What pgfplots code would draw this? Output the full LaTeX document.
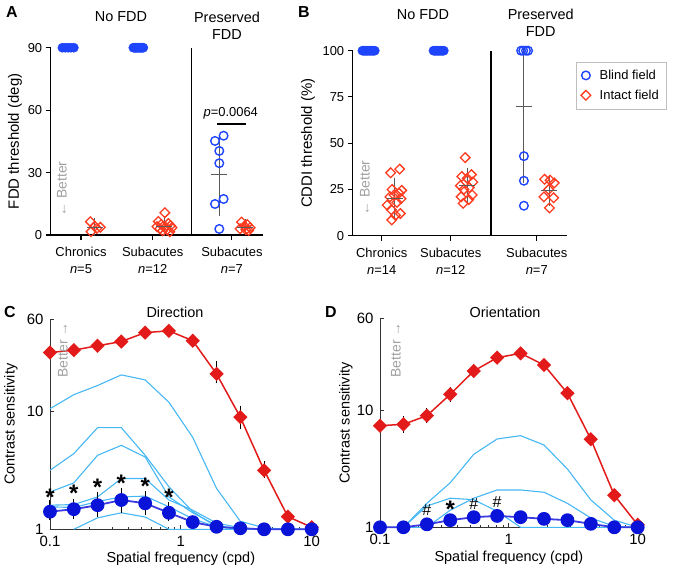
\documentclass[border=0pt]{standalone}
\usepackage{fontspec}
\setmainfont{Liberation Sans}
\usepackage{pgfplots}
\pgfplotsset{compat=1.18}
\usepackage{pgfplotstable}

\definecolor{blind}{HTML}{1F45FC}
\definecolor{intact}{HTML}{FF3B1F}
\definecolor{meanbar}{HTML}{5A5A5A}
\definecolor{cred}{HTML}{E31A1A}
\definecolor{cblue}{HTML}{0A14D9}
\definecolor{cline}{HTML}{3A3AE0}
\definecolor{sky}{HTML}{45B7F5}
\definecolor{better}{HTML}{A0A0A0}

\newcommand\fA{\fontsize{13}{17}\selectfont}
\newcommand\fB{\fontsize{14.5}{17.5}\selectfont}
\newcommand\fL{\fontsize{15}{17}\selectfont}
\newcommand\sigstar{\fontsize{24}{24}\selectfont\bfseries *}

% panel A: FDD thresholds (points at the 90 deg ceiling kept apart)
\pgfplotstableread{
x y
0.74 90
0.78 90
0.82 90
0.86 90
0.90 90
1.73 90
1.743 90
1.755 90
1.768 90
1.78 90
1.793 90
1.805 90
1.818 90
1.83 90
1.843 90
1.855 90
1.87 90
}\Aceil
\pgfplotstableread{
x y
2.87 45.2
2.99 47.7
2.93 40.4
2.93 34.5
2.99 17.3
2.87 14.9
2.93 2.9
}\Ablind
\pgfplotstableread{
x y
1.13 6.4
1.14 1.6
1.22 3.2
1.27 3.7
1.19 4.2
2.17 10.7
2.08 6.5
2.22 5.5
2.12 5.0
2.25 4.5
2.06 4.0
2.18 3.8
2.27 3.5
2.10 3.0
2.20 2.5
2.14 2.0
2.24 1.5
3.24 6.2
3.32 5.0
3.28 4.2
3.36 3.5
3.22 3.0
3.30 2.5
3.34 2.2
}\Aintact
\pgfplotstableread{
x y ep em
1.19 3.8 1.8 1.8
2.16 4.3 2.5 2.5
2.929 29.0 17.3 17.3
3.29 3.8 1.4 1.4
}\Amean

% panel B: CDDI thresholds
\pgfplotstableread{
x y
0.72 100
0.734 100
0.748 100
0.762 100
0.775 100
0.789 100
0.803 100
0.817 100
0.831 100
0.845 100
0.858 100
0.872 100
0.886 100
0.90 100
1.75 100
1.764 100
1.777 100
1.791 100
1.805 100
1.818 100
1.832 100
1.846 100
1.86 100
1.873 100
1.887 100
1.90 100
}\Bceil
\pgfplotstableread{
x y
3.02 100
3.05 100
3.09 100
3.12 100
3.06 43
3.06 29.7
3.06 16.2
}\Bblind
\pgfplotstableread{
x y
1.145 8.5
1.20 11
1.27 12
1.14 14
1.08 16.5
1.22 18
1.28 20
1.12 21
1.18 22
1.25 23
1.29 24.5
1.15 25
1.13 34
1.26 36
2.21 42.2
2.30 33
2.16 32
2.24 31
2.32 29
2.14 27
2.27 26
2.19 25
2.31 22
2.15 21
2.26 19.5
2.18 17.5
3.36 30.5
3.44 30
3.50 28.5
3.42 25
3.35 21
3.49 20.5
3.43 15
}\Bintact
\pgfplotstableread{
x y ep em
1.19 20.4 7.9 7.9
2.24 27.0 6.8 6.8
3.06 69.8 30.2 38.4
3.43 24.4 5.8 5.8
}\Bmean

% panel C: direction contrast sensitivity
\pgfplotstableread{
x r rp rm b bp bm l1 l2 l3 l4 l5 l6
0.100 31.4 1.2 1.2 1.41 0.25 0.13 10.5 3.16 2.07 1.60 1.55 nan
0.152 32.9 1.2 1.2 1.48 0.21 0.18 13.8 4.37 2.47 1.62 1.53 1.00
0.231 35.8 1.4 1.4 1.60 0.35 0.24 16.5 7.25 4.23 1.88 1.72 1.25
0.351 38.9 1.5 1.5 1.77 0.34 0.32 20.3 7.25 5.14 2.69 1.88 1.38
0.534 46.3 1.5 1.5 1.66 0.32 0.27 18.4 4.23 4.09 2.69 1.91 1.27
0.811 47.9 1.5 1.5 1.38 0.24 0.14 11.9 2.29 1.88 1.77 1.55 1.00
1.233 39.5 1.5 1.5 1.15 0.08 0.06 6.00 1.41 1.38 1.45 1.23 1.00
1.874 20.7 4.2 2.5 1.05 0.03 0.02 2.22 1.05 1.08 1.13 1.05 1.00
2.848 8.90 1.6 1.4 1.02 0.01 0.01 1.17 1.00 1.00 1.03 1.00 1.00
4.329 3.16 0.40 0.26 1.00 0.01 0.01 1.03 1.00 1.00 1.00 1.00 1.00
6.579 1.28 0.05 0.05 1.00 0.01 0.01 1.00 1.00 1.00 1.00 1.00 1.00
10.00 1.04 0.02 0.02 1.00 0.01 0.01 1.00 1.00 1.00 1.00 1.00 1.00
}\Cdata

% panel D: orientation contrast sensitivity
\pgfplotstableread{
x r rp rm b bp bm l1 l2 l3
0.100 7.35 0.5 0.5 1.00 0.01 0.01 1.00 1.00 1.00
0.152 7.55 0.9 0.8 1.00 0.01 0.01 1.00 1.00 1.00
0.231 8.94 0.8 0.7 1.06 0.04 0.04 1.60 1.00 1.52
0.351 13.6 1.2 1.1 1.15 0.06 0.06 2.40 1.40 1.77
0.534 21.5 1.9 1.7 1.22 0.07 0.07 4.19 1.77 1.72
0.811 27.9 2.0 1.9 1.25 0.07 0.07 5.66 2.08 1.37
1.233 30.4 1.5 1.5 1.22 0.06 0.06 6.04 2.08 1.00
1.874 24.2 1.2 1.2 1.18 0.05 0.05 5.03 1.99 1.00
2.848 13.9 1.0 1.0 1.15 0.04 0.04 3.14 1.60 1.00
4.329 5.63 0.3 0.3 1.07 0.03 0.03 1.71 1.20 1.00
6.579 1.88 0.1 0.1 1.00 0.01 0.01 1.15 1.02 1.00
10.00 1.05 0.02 0.02 1.00 0.01 0.01 1.00 1.00 1.00
}\Ddata

\pgfplotsset{
  threshaxis/.style={scale only axis, axis lines=left, axis line style={-, line width=1.1pt},
    tick align=outside, major tick length=5bp, tick style={black, line width=1.1pt},
    clip=false, font=\fA, tick label style={font=\fA},
    /pgf/number format/assume math mode=true,
    xticklabel style={align=center, yshift=-4bp}, xtick={1,2,3}},
  blindpt/.style={only marks, mark=o, mark size=4.3bp, blind, line width=1.4pt},
  ceilpt/.style={only marks, mark=*, mark size=4.6bp, blind, mark options={fill=blind}},
  intactpt/.style={only marks, mark=square, mark size=3.4bp, intact, line width=1.3pt, mark options={rotate=45}},
  sdbar/.style={only marks, meanbar, line width=0.9pt, mark=-, mark size=8bp,
    error bars/y dir=both, error bars/y explicit,
    error bars/error bar style={meanbar, line width=0.9pt},
    error bars/error mark options={meanbar, mark size=5bp, line width=0.9pt}},
  csfaxis/.style={scale only axis, xmin=0.1, xmax=10, ymin=1, ymax=60,
    axis lines=left, axis line style={-, line width=0.9pt, black!80},
    tick align=inside, major tick length=4bp, minor tick length=2.5bp,
    tick style={black!80, line width=0.8pt},
    xtick={0.1,1,10}, xticklabels={0.1,1,10},
    minor xtick={0.2,0.3,0.4,0.5,0.6,0.7,0.8,0.9,2,3,4,5,6,7,8,9},
    ytick={1,10,60}, yticklabels={1,10,60}, minor ytick={},
    clip=false, font=\fB, tick label style={font=\fL},
    xticklabel style={yshift=-3.5bp}, yticklabel style={xshift=-3bp},
    xlabel={Spatial frequency (cpd)}, ylabel={Contrast sensitivity},
    xlabel style={font=\fL}},
  skyline/.style={sky, line width=1.1pt, no marks},
  redline/.style={cred, line width=1.5pt, mark=square*, mark size=4.3bp,
    mark options={rotate=45, cred},
    error bars/y dir=both, error bars/y explicit,
    error bars/error bar style={black, line width=1pt},
    error bars/error mark options={black, mark size=3bp, line width=1pt}},
  blueline/.style={cline, line width=1.8pt, mark=*, mark size=6bp,
    mark options={cblue, fill=cblue},
    error bars/y dir=both, error bars/y explicit,
    error bars/error bar style={black, line width=1pt},
    error bars/error mark options={black, mark size=3bp, line width=1pt}},
}

\begin{document}
\begin{tikzpicture}

% ---------- A ----------
\begin{axis}[threshaxis, at={(50.7bp,337bp)}, anchor=south west, width=212.3bp, height=187.3bp,
  xmin=0.577, xmax=3.54, ymin=0, ymax=90, ytick={0,30,60,90},
  xtick={1,2,3.106},
  xticklabels={{Chronics\\\textit{n}=5},{Subacutes\\\textit{n}=12},{Subacutes\\\textit{n}=7}},
  ylabel={FDD threshold (deg)},
  every axis y label/.style={at={(axis description cs:-0.168,0.5)}, rotate=90, anchor=center, font=\fL}]
\addplot[ceilpt] table[x=x,y=y] {\Aceil};
\addplot[blindpt] table[x=x,y=y] {\Ablind};
\addplot[intactpt] table[x=x,y=y] {\Aintact};
\addplot[sdbar] table[x=x,y=y,y error plus=ep,y error minus=em] {\Amean};
\draw[line width=1.1pt] (axis cs:2.544,0) -- (axis cs:2.544,90);
\draw[line width=1.6pt] (axis cs:2.90,53.3) -- (axis cs:3.30,53.3);
\node[font=\fA] at (axis cs:3.09,58.6) {\textit{p}=0.0064};
\end{axis}

% ---------- B ----------
\begin{axis}[threshaxis, at={(352.7bp,336.3bp)}, anchor=south west, width=214bp, height=185bp,
  xmin=0.58, xmax=3.68, ymin=0, ymax=100, ytick={0,25,50,75,100},
  xtick={1,2,3.246},
  xticklabels={{Chronics\\\textit{n}=14},{Subacutes\\\textit{n}=12},{Subacutes\\\textit{n}=7}},
  ylabel={CDDI threshold (\%)},
  every axis y label/.style={at={(axis description cs:-0.209,0.5)}, rotate=90, anchor=center, font=\fL},
  legend style={at={(axis description cs:1.043,0.94)}, anchor=north west,
    draw=black!25, fill=white, font=\fA, inner xsep=5bp, inner ysep=6bp, row sep=5bp},
  legend cell align=left]
\addplot[blindpt] table[x=x,y=y] {\Bblind};
\addlegendentry{\hspace{7bp}Blind field\hspace{18bp}}
\addplot[intactpt] table[x=x,y=y] {\Bintact};
\addlegendentry{\hspace{7bp}Intact field\hspace{18bp}}
\addplot[ceilpt, forget plot] table[x=x,y=y] {\Bceil};
\addplot[sdbar, forget plot] table[x=x,y=y,y error plus=ep,y error minus=em] {\Bmean};
\draw[line width=1.1pt] (axis cs:2.584,0) -- (axis cs:2.584,100);
\end{axis}

% ---------- C ----------
\begin{loglogaxis}[csfaxis, at={(50bp,42.7bp)}, anchor=south west, width=261.7bp, height=210bp,
  every axis y label/.style={at={(axis description cs:-0.149,0.5)}, rotate=90, anchor=center},
  every axis x label/.style={at={(axis description cs:0.5,-0.138)}, anchor=center}]
\addplot[skyline] table[x=x,y=l1] {\Cdata};
\addplot[skyline] table[x=x,y=l2] {\Cdata};
\addplot[skyline] table[x=x,y=l3] {\Cdata};
\addplot[skyline] table[x=x,y=l4] {\Cdata};
\addplot[skyline] table[x=x,y=l5] {\Cdata};
\addplot[skyline] table[x=x,y=l6] {\Cdata};
\addplot[redline] table[x=x,y=r,y error plus=rp,y error minus=rm] {\Cdata};
\addplot[blueline] table[x=x,y=b,y error plus=bp,y error minus=bm] {\Cdata};
\node[inner sep=0pt] at (axis cs:0.100,1.85) {\sigstar};
\node[inner sep=0pt] at (axis cs:0.152,2.03) {\sigstar};
\node[inner sep=0pt] at (axis cs:0.231,2.28) {\sigstar};
\node[inner sep=0pt] at (axis cs:0.351,2.47) {\sigstar};
\node[inner sep=0pt] at (axis cs:0.534,2.33) {\sigstar};
\node[inner sep=0pt] at (axis cs:0.811,1.85) {\sigstar};
\end{loglogaxis}

% ---------- D ----------
\begin{loglogaxis}[csfaxis, at={(380bp,44.7bp)}, anchor=south west, width=257.7bp, height=208.6bp,
  every axis y label/.style={at={(axis description cs:-0.132,0.5)}, rotate=90, anchor=center},
  every axis x label/.style={at={(axis description cs:0.5,-0.148)}, anchor=center}]
\addplot[skyline] table[x=x,y=l1] {\Ddata};
\addplot[skyline] table[x=x,y=l2] {\Ddata};
\addplot[skyline] table[x=x,y=l3] {\Ddata};
\addplot[redline] table[x=x,y=r,y error plus=rp,y error minus=rm] {\Ddata};
\addplot[blueline] table[x=x,y=b,y error plus=bp,y error minus=bm] {\Ddata};
\node[font=\fontsize{16}{16}\selectfont, inner sep=0pt] at (axis cs:0.231,1.39) {\#};
\node[inner sep=0pt] at (axis cs:0.351,1.42) {\sigstar};
\node[font=\fontsize{16}{16}\selectfont, inner sep=0pt] at (axis cs:0.534,1.57) {\#};
\node[font=\fontsize{16}{16}\selectfont, inner sep=0pt] at (axis cs:0.811,1.65) {\#};
\end{loglogaxis}

% ---------- titles and annotations ----------
\node[font=\fB] at (121bp,555.3bp) {No FDD};
\node[font=\fB, align=center] at (227bp,546.5bp) {Preserved\\FDD};
\node[font=\fB] at (423bp,557bp) {No FDD};
\node[font=\fB, align=center] at (540.7bp,549bp) {Preserved\\FDD};
\node[font=\fB] at (175bp,260bp) {Direction};
\node[font=\fB] at (505bp,260bp) {Orientation};
\node[font=\fontsize{16}{16}\selectfont\bfseries] at (12bp,560bp) {A};
\node[font=\fontsize{16}{16}\selectfont\bfseries] at (304bp,560bp) {B};
\node[font=\fontsize{16}{16}\selectfont\bfseries] at (10bp,260bp) {C};
\node[font=\fontsize{16}{16}\selectfont\bfseries] at (331bp,260bp) {D};
\node[font=\fontsize{14}{14}\selectfont, text=better, rotate=90] at (62bp,383bp) {← Better};
\node[font=\fontsize{14}{14}\selectfont, text=better, rotate=90] at (365bp,384bp) {← Better};
\node[font=\fontsize{14}{14}\selectfont, text=better, rotate=90] at (63bp,222bp) {Better →};
\node[font=\fontsize{14}{14}\selectfont, text=better, rotate=90] at (396bp,222bp) {Better →};

\pgfresetboundingbox
\path[use as bounding box] (0bp,0bp) rectangle (684bp,572bp);
\end{tikzpicture}
\end{document}
